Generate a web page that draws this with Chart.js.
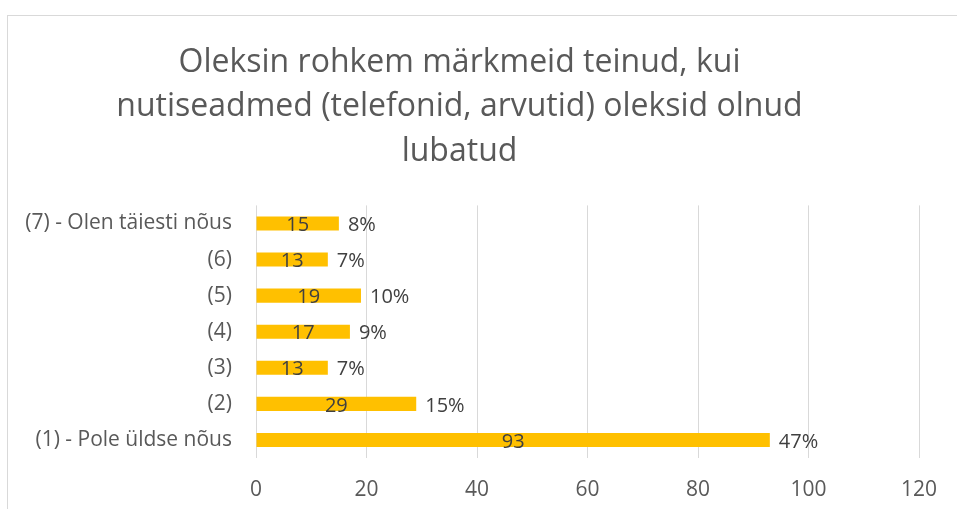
<!DOCTYPE html>
<html>
<head>
<meta charset="utf-8">
<script src="https://cdn.jsdelivr.net/npm/chart.js@4"></script>
<style>
  html, body { margin: 0; padding: 0; background: #fff; overflow: hidden; }
  #frame { position: absolute; left: 7px; top: 15px; width: 1000px; height: 600px; border: 1px solid #d9d9d9; }
  #wrap { position: absolute; left: 0; top: 0; width: 957px; height: 509px; }
</style>
</head>
<body>
<div id="frame"></div>
<div id="wrap"><canvas id="chart"></canvas></div>
<script>
const titleLines = ["Oleksin rohkem märkmeid teinud, kui", "nutiseadmed (telefonid, arvutid) oleksid olnud", "lubatud"];
const categories = ["(1) - Pole üldse nõus", "(2)", "(3)", "(4)", "(5)", "(6)", "(7) - Olen täiesti nõus"];
const counts = [93, 29, 13, 17, 19, 13, 15];
const percents = ["47%", "15%", "7%", "9%", "10%", "7%", "8%"];
const xTicks = [0, 20, 40, 60, 80, 100, 120];

const fontFamily = "'Open Sans', sans-serif";
const axisGray = "#595959";
const labelGray = "#404040";

const barLabels = {
  id: "barLabels",
  afterDatasetsDraw(chart) {
    const ctx = chart.ctx;
    const meta = chart.getDatasetMeta(0);
    ctx.save();
    ctx.font = "20px " + fontFamily;
    ctx.fillStyle = labelGray;
    ctx.textBaseline = "middle";
    meta.data.forEach((bar, i) => {
      ctx.textAlign = "center";
      ctx.fillText(String(counts[i]), (bar.x + bar.base) / 2, bar.y + 2);
      ctx.textAlign = "left";
      ctx.fillText(percents[i], bar.x + 9, bar.y + 2);
    });
    ctx.restore();
  },
};

new Chart(document.getElementById("chart").getContext("2d"), {
  type: "bar",
  data: {
    labels: categories,
    datasets: [{
      data: counts,
      backgroundColor: "#ffc000",
      borderWidth: 0,
      barPercentage: 0.39,
      categoryPercentage: 1,
    }],
  },
  options: {
    indexAxis: "y",
    responsive: true,
    maintainAspectRatio: false,
    animation: false,
    layout: { padding: { top: 40, right: 38, bottom: 0, left: 0 } },
    plugins: {
      legend: { display: false },
      tooltip: { enabled: false },
      title: {
        display: true,
        text: titleLines,
        color: axisGray,
        font: { family: fontFamily, size: 32, weight: "normal", lineHeight: 1.4 },
        padding: { top: 0, bottom: 31 },
      },
    },
    scales: {
      x: {
        min: 0,
        max: 120,
        afterBuildTicks: (scale) => { scale.ticks = xTicks.map((v) => ({ value: v })); },
        afterFit: (scale) => { scale.height = 51; },
        grid: { color: "#d9d9d9", lineWidth: 1, drawTicks: false },
        border: { display: false },
        ticks: { color: axisGray, padding: 19, font: { family: fontFamily, size: 21 } },
      },
      y: {
        reverse: true,
        afterFit: (scale) => { scale.width = 256; },
        grid: { display: false },
        border: { display: false },
        ticks: { color: axisGray, padding: 16, font: { family: fontFamily, size: 21 } },
      },
    },
  },
  plugins: [barLabels],
});
</script>
</body>
</html>
